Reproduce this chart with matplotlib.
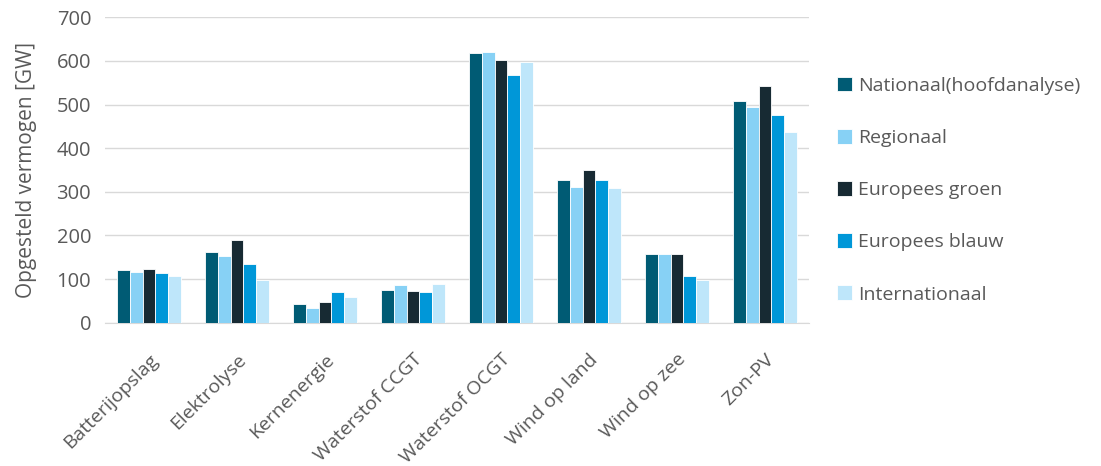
import numpy as np
import matplotlib
matplotlib.use("Agg")
import matplotlib.pyplot as plt

plt.rcParams['font.family'] = ['Open Sans', 'DejaVu Sans']

categories = ["Batterijopslag", "Elektrolyse", "Kernenergie", "Waterstof CCGT",
              "Waterstof OCGT", "Wind op land", "Wind op zee", "Zon-PV"]
series_names = ["Nationaal(hoofdanalyse)", "Regionaal", "Europees groen",
                "Europees blauw", "Internationaal"]
nationaal = [121, 162, 42, 75, 618, 326, 157, 507]
regionaal = [117, 154, 34, 86, 621, 310, 157, 494]
europees_groen = [124, 190, 48, 72, 602, 351, 157, 542]
europees_blauw = [115, 134, 70, 71, 568, 326, 108, 475]
internationaal = [108, 97, 59, 88, 598, 308, 99, 437]
values = [nationaal, regionaal, europees_groen, europees_blauw, internationaal]
colors = ["#005b74", "#87d1f5", "#172a33", "#0097d8", "#bee6fa"]

fig = plt.figure(figsize=(11.01, 4.66), dpi=100)
ax = fig.add_axes([0.0954, 0.3075, 0.6394, 0.6555])

x = np.arange(len(categories))
w = 0.146
for i, (name, vals) in enumerate(zip(series_names, values)):
    ax.bar(x + (i - 2) * w, vals, w, color=colors[i], label=name,
           edgecolor="white", linewidth=0.6, zorder=3)

ax.set_xlim(-0.5, len(categories) - 0.5)
ax.set_ylim(0, 700)
ax.set_yticks(range(0, 701, 100))
ax.grid(axis="y", color="#d9d9d9", linewidth=1, zorder=0)
for s in ["top", "right", "left"]:
    ax.spines[s].set_visible(False)
ax.spines["bottom"].set_color("#d9d9d9")
ax.tick_params(length=0, colors="#595959")
ax.tick_params(axis="y", pad=10, labelsize=14.5)
ax.tick_params(axis="x", pad=20, labelsize=14)
ax.set_xticks(x)
ax.set_xticklabels(categories, rotation=45, ha="right", rotation_mode="anchor")
ax.set_ylabel("Opgesteld vermogen [GW]", fontsize=15, color="#595959", labelpad=14)

ax.legend(loc="center left", bbox_to_anchor=(0.744, 0.592), bbox_transform=fig.transFigure,
          frameon=False, fontsize=14, labelcolor="#595959", handlelength=0.8,
          handleheight=0.8, handletextpad=0.3, labelspacing=1.75)

fig.savefig("out.png", dpi=100)
